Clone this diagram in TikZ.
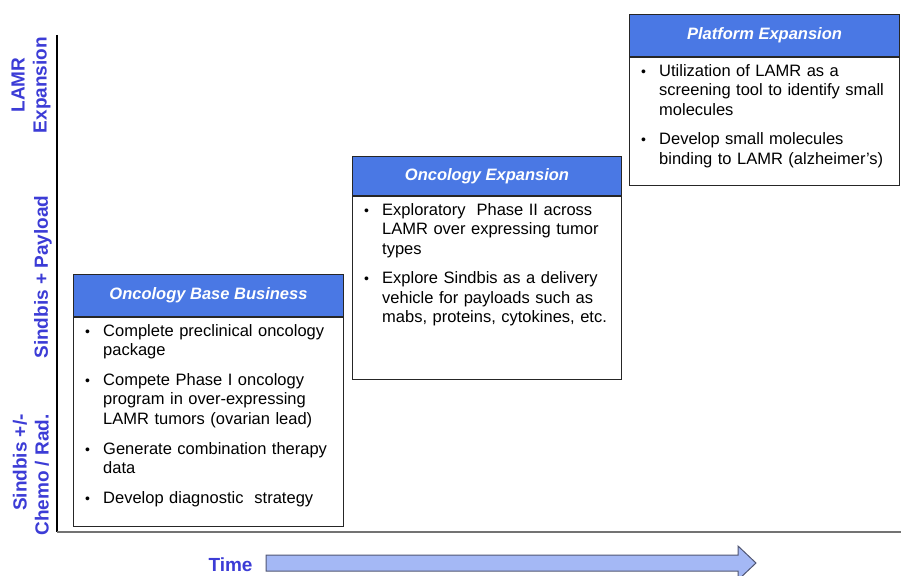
\documentclass[tikz,border=0pt]{standalone}
\usepackage{fontspec}
\setmainfont{Liberation Sans}
\usepackage{enumitem}
\usetikzlibrary{positioning}
\definecolor{hdrblue}{RGB}{74,120,228}
\definecolor{lblblue}{RGB}{60,60,214}
\definecolor{arrowfill}{RGB}{164,184,245}
\definecolor{arrowdraw}{RGB}{80,86,115}
\setlist[itemize]{label=\hspace{-3pt}{\fontsize{14}{14}\selectfont\textbullet}, leftmargin=15pt, labelwidth=10pt, labelsep=5pt, align=left, topsep=0pt, partopsep=0pt, parsep=0pt, itemsep=10.5pt}

\begin{document}
\begin{tikzpicture}[x=1pt,y=-1pt]
\tikzstyle{every node}+=[inner sep=0pt]
\tikzstyle{phasehdr}=[draw=black!85, line width=1pt, fill=hdrblue, text=white, anchor=north west, minimum height=42pt, minimum width=270pt, font=\bfseries\itshape\fontsize{16.5}{19}\selectfont]
\tikzstyle{phasebody}=[draw=black!85, line width=1pt, anchor=north west, minimum width=270pt]
\tikzstyle{phasetxt}=[anchor=north west, text width=250pt, align=left, font=\fontsize{16.5}{19.3}\selectfont]
\tikzstyle{axislbl}=[rotate=90, text=lblblue, font=\bfseries\fontsize{19}{22}\selectfont]
\useasboundingbox (0,0) rectangle (901,575);
\coordinate (origin) at (57,532);
\coordinate (ytop) at (57,35);
\coordinate (xend) at (901,532);
\draw [black, line width=1.3pt] (ytop) -- (origin);
\draw [black!55, line width=2pt] (origin) -- (xend);
\node [axislbl, align=center] (lamrlbl) at (31,85) {LAMR\\Expansion};
\node [axislbl] (paylbl) at (43,277) {Sindbis + Payload};
\node [axislbl, align=right] (chemolbl) at (31,475) {Sindbis +/-\\Chemo / Rad.};
\node [phasehdr] (basehdr) at (73,274) {Oncology Base Business};
\node [phasebody, minimum height=209pt] (basebody) at (basehdr.south west) {};
\node [phasetxt] (basetxt) at ([shift={(15pt,0pt)}]basebody.north west) {%
\begin{itemize}
\item Complete preclinical oncology\\ package
\item Compete Phase I oncology\\ program in over-expressing\\ LAMR tumors (ovarian lead)
\item Generate combination therapy\\ data
\item Develop diagnostic\ \ strategy
\end{itemize}};
\node [phasehdr, minimum height=39pt, minimum width=269pt] (onchdr) at (352,156) {Oncology Expansion};
\node [phasebody, minimum height=183pt, minimum width=269pt] (oncbody) at (onchdr.south west) {};
\node [phasetxt] (onctxt) at ([shift={(15pt,0pt)}]oncbody.north west) {%
\begin{itemize}
\item Exploratory\ \ Phase II across\\ LAMR over expressing tumor\\ types
\item Explore Sindbis as a delivery\\ vehicle for payloads such as\\ mabs, proteins, cytokines, etc.
\end{itemize}};
\node [phasehdr] (plathdr) at (629,14) {Platform Expansion};
\node [phasebody, minimum height=128pt] (platbody) at (plathdr.south west) {};
\node [phasetxt] (plattxt) at ([shift={(15pt,0pt)}]platbody.north west) {%
\begin{itemize}
\item Utilization of LAMR as a\\ screening tool to identify small\\ molecules
\item Develop small molecules\\ binding to LAMR (alzheimer’s)
\end{itemize}};
\node [text=lblblue, font=\bfseries\fontsize{19}{22}\selectfont] (timelbl) at (230.5,565) {Time};
\draw [fill=arrowfill, draw=arrowdraw, line width=1pt] (266,555) -- (738,555) -- (738,546) -- (756,563) -- (738,580) -- (738,571) -- (266,571) -- cycle;
\end{tikzpicture}
\end{document}
